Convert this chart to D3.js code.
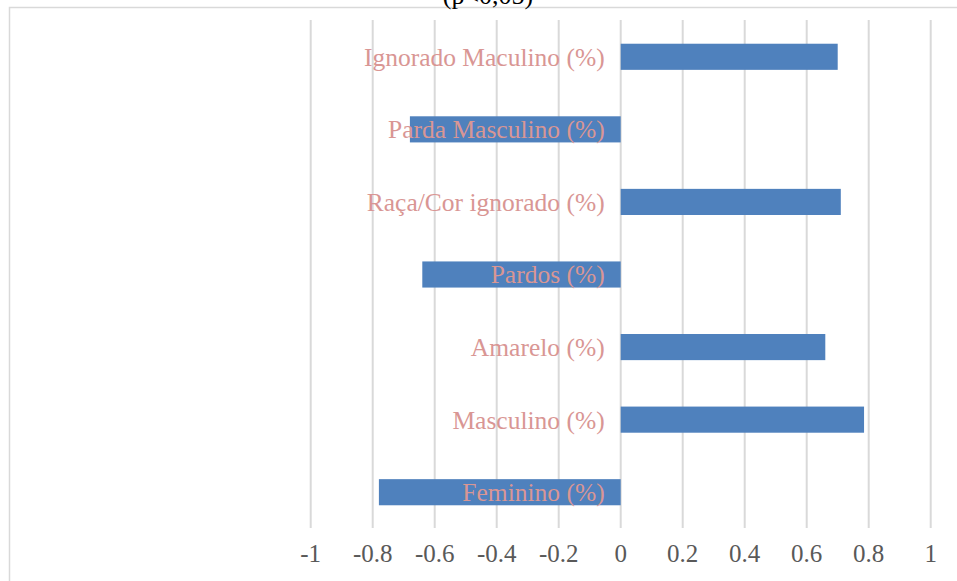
<!DOCTYPE html>
<html>
<head>
  <meta charset="utf-8">
  <script src="https://d3js.org/d3.v7.min.js"></script>
  <style>
    body { margin: 0; background: #fff; }
    .grid line { stroke: #d9d9d9; stroke-width: 2px; }
    .bar { fill: #4f81bd; }
    .cat { fill: #d99694; font-family: "Liberation Serif", serif; font-size: 25.5px; }
    .tick-label { fill: #595959; font-family: "Liberation Serif", serif; font-size: 25px; }
  </style>
</head>
<body>
<script>
  var width = 957,
      height = 581;

  // categories top to bottom
  var categories = ["Ignorado Maculino (%)", "Parda Masculino (%)", "Raça/Cor ignorado (%)",
                    "Pardos (%)", "Amarelo (%)", "Masculino (%)", "Feminino (%)"];
  var values = [0.70, -0.68, 0.71, -0.64, 0.66, 0.785, -0.78];
  var ticks = [-1, -0.8, -0.6, -0.4, -0.2, 0, 0.2, 0.4, 0.6, 0.8, 1];
  var title = "(p<0,05)";

  var svg = d3.select("body")
      .append("svg")
      .attr("width", width)
      .attr("height", height);

  // chart frame
  svg.append("rect")
      .attr("x", 9.5).attr("y", 7.5)
      .attr("width", 1000).attr("height", 1000)
      .attr("fill", "none")
      .attr("stroke", "#d9d9d9")
      .attr("stroke-width", 1.5);

  svg.append("text")
      .attr("x", 488).attr("y", 4)
      .attr("text-anchor", "middle")
      .style("font-family", "Liberation Serif, serif")
      .style("font-size", "26px")
      .style("fill", "#000")
      .text(title);

  var x = d3.scaleLinear().domain([-1, 1]).range([310.7, 930.7]);
  var y = d3.scaleBand().domain(categories).range([20.5, 528.5]).paddingInner(0.64).paddingOuter(0.32);

  svg.append("g").attr("class", "grid")
    .selectAll("line")
    .data(ticks)
    .enter().append("line")
      .attr("x1", function(d) { return x(d); })
      .attr("x2", function(d) { return x(d); })
      .attr("y1", 20)
      .attr("y2", 528);

  svg.selectAll(".bar")
      .data(values)
      .enter().append("rect")
      .attr("class", "bar")
      .attr("x", function(d) { return x(Math.min(0, d)); })
      .attr("width", function(d) { return Math.abs(x(d) - x(0)); })
      .attr("y", function(d, i) { return y(categories[i]); })
      .attr("height", y.bandwidth());

  svg.selectAll(".cat")
      .data(categories)
      .enter().append("text")
      .attr("class", "cat")
      .attr("x", x(0) - 16)
      .attr("y", function(d) { return y(d) + y.bandwidth() / 2; })
      .attr("dy", "0.35em")
      .attr("text-anchor", "end")
      .text(function(d) { return d; });

  svg.selectAll(".tick-label")
      .data(ticks)
      .enter().append("text")
      .attr("class", "tick-label")
      .attr("x", function(d) { return x(d); })
      .attr("y", 562)
      .attr("text-anchor", "middle")
      .text(function(d) { return d; });
</script>
</body>
</html>
